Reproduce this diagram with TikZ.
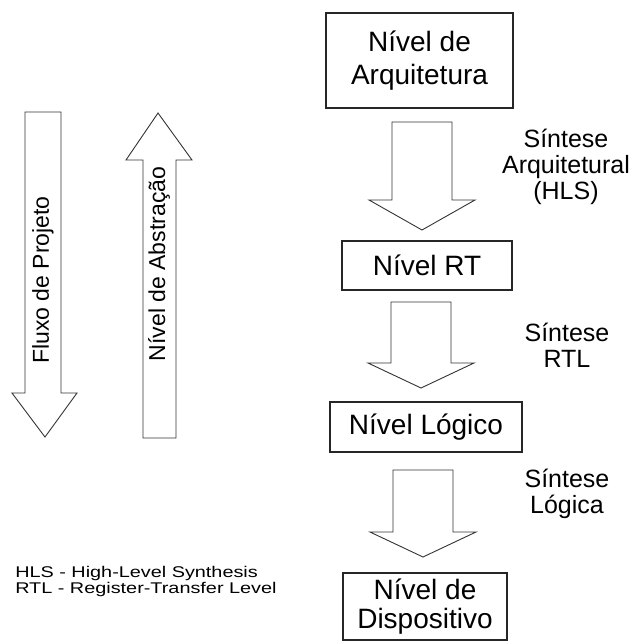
\documentclass[tikz,border=0pt]{standalone}
\usepackage{fontspec}
\setmainfont{Liberation Sans}
\usetikzlibrary{positioning}

\begin{document}
\begin{tikzpicture}[x=1pt,y=-1pt,
  every node/.style={align=center,inner sep=0pt},
  level/.style={draw=black!85,line width=2.2pt,font=\fontsize{28}{33}\selectfont},
  seta/.style={draw=black!80,line width=0.9pt,line join=miter},
  sintese/.style={font=\fontsize{25}{26}\selectfont},
  rotulo/.style={font=\fontsize{23}{24}\selectfont,rotate=90}
]
  \useasboundingbox (0,0) rectangle (634,642);

  % niveis
  \node[level,minimum width=187,minimum height=95] (arq) at (419.5,60.5)
    {N\'ivel de\\Arquitetura};
  \node[level,minimum width=170,minimum height=49] (rt) at (427,265.5)
    {N\'ivel RT};
  \node[level,minimum width=192,minimum height=50] (logico) at (426,427)
    {N\'ivel L\'ogico};
  \node[level,minimum width=164,minimum height=67] (disp) at (425,606.5)
    {N\'ivel de\\[-4pt]Dispositivo};

  % setas de sintese
  \foreach \cx/\ya/\yb/\yc in {422/122/200/230,421/302/363/388,423/470/532/557}{
    \draw[seta] (\cx-30,\ya) -- (\cx+30,\ya) -- (\cx+30,\yb)
      -- (\cx+53,\yb) -- (\cx,\yc) -- (\cx-53,\yb)
      -- (\cx-30,\yb) -- cycle;
  }

  % rotulos das sinteses
  \node[sintese] (sint1) at (566,167) {S\'intese\\Arquitetural\\(HLS)};
  \node[sintese] (sint2) at (567,345) {S\'intese\\RTL};
  \node[sintese] (sint3) at (567,494) {S\'intese\\L\'ogica};

  % fluxo e abstracao
  \draw[seta] (25,112) -- (61,112) -- (61,393) -- (77,393)
    -- (45,437) -- (12,393) -- (25,393) -- cycle;
  \draw[seta] (158,113) -- (192,160) -- (176,160) -- (176,438)
    -- (143,438) -- (143,160) -- (126,160) -- cycle;
  \node[rotulo] (fluxo) at (43,280) {Fluxo de Projeto};
  \node[rotulo] (abstr) at (159,264) {N\'ivel de Abstra\c{c}\~ao};

  % legenda
  \node[anchor=north west,align=left,xscale=1.28,
    font=\fontsize{15.5}{16}\selectfont] (legenda) at (15,566)
    {HLS - High-Level Synthesis\\RTL - Register-Transfer Level};
\end{tikzpicture}
\end{document}
